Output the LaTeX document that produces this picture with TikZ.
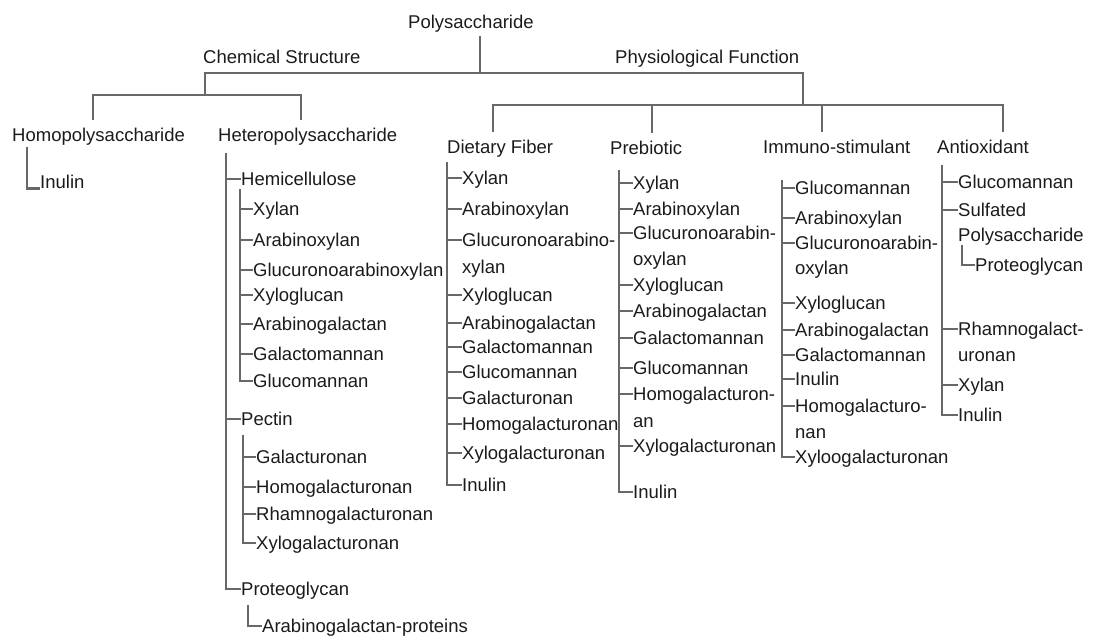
\documentclass[tikz,border=0pt]{standalone}
\usepackage{fontspec}
\setmainfont{Liberation Sans}
\definecolor{ink1}{RGB}{28,26,27}
\definecolor{line1}{RGB}{104,104,106}
\usetikzlibrary{positioning}

\begin{document}
\begin{tikzpicture}[x=1pt, y=-1pt,
  lbl/.style={anchor=west, inner sep=0pt, text height=13.2pt, text depth=0pt, text=ink1, font=\fontsize{18.5}{22}\selectfont},
  tree/.style={draw=line1, line width=2.3pt}
]
  \useasboundingbox (0,0) rectangle (1093,639);

  % top levels
  \node[lbl] (poly) at (408,22) {Polysaccharide};
  \node[lbl] (chem) at (203,56.5) {Chemical Structure};
  \node[lbl] (phys) at (615,56.5) {Physiological Function};
  \node[lbl] (homo) at (12,135) {Homopolysaccharide};
  \node[lbl] (hetero) at (218,135) {Heteropolysaccharide};
  \node[lbl] (diet) at (447,147) {Dietary Fiber};
  \node[lbl] (preb) at (610,148) {Prebiotic};
  \node[lbl] (immu) at (763,147) {Immuno-stimulant};
  \node[lbl] (anti) at (937,147) {Antioxidant};

  \coordinate (jtop) at (480,72.7);
  \coordinate (jchem) at (205,72.7);
  \coordinate (jphys) at (802.7,72.7);
  \coordinate (bchem) at (205,95);
  \coordinate (bphys) at (802.7,105);
  \coordinate (bhomo) at (93.3,95);
  \coordinate (bhet) at (300.7,95);
  \coordinate (bdiet) at (492.7,105);
  \coordinate (bpreb) at (651.7,105);
  \coordinate (bimmu) at (822,105);
  \coordinate (banti) at (1003,105);

  \draw[tree, shorten <=7pt] (jtop |- poly.south) -- (jtop);
  \draw[tree] (bchem) -- (jchem) -- (jphys) -- (bphys);
  \draw[tree, shorten <=8pt, shorten >=8pt] (bhomo |- homo.north) -- (bhomo) -- (bhet) -- (bhet |- hetero.north);
  \draw[tree, shorten <=8pt, shorten >=8pt] (bdiet |- diet.north) -- (bdiet) -- (banti) -- (banti |- anti.north);
  \draw[tree, shorten >=8pt] (bpreb) -- (bpreb |- preb.north);
  \draw[tree, shorten >=8pt] (bimmu) -- (bimmu |- immu.north);

  % homopolysaccharide
  \node[lbl] (hin) at (40,182) {Inulin};
  \coordinate (sphom) at (27,147);
  \draw[tree] (sphom) |- (hin.base west);

  % heteropolysaccharide
  \node[lbl] (hemi) at (241,179) {Hemicellulose};
  \node[lbl] (hc1) at (253,209) {Xylan};
  \node[lbl] (hc2) at (253,240) {Arabinoxylan};
  \node[lbl] (hc3) at (253,270) {Glucuronoarabinoxylan};
  \node[lbl] (hc4) at (253,295) {Xyloglucan};
  \node[lbl] (hc5) at (253,324) {Arabinogalactan};
  \node[lbl] (hc6) at (253,354) {Galactomannan};
  \node[lbl] (hc7) at (253,381) {Glucomannan};
  \node[lbl] (pect) at (241,419) {Pectin};
  \node[lbl] (pc1) at (256,457) {Galacturonan};
  \node[lbl] (pc2) at (256,487) {Homogalacturonan};
  \node[lbl] (pc3) at (256,514) {Rhamnogalacturonan};
  \node[lbl] (pc4) at (256,543) {Xylogalacturonan};
  \node[lbl] (prot) at (241,589) {Proteoglycan};
  \node[lbl] (pg1) at (262,626) {Arabinogalactan-proteins};

  \coordinate (sphet) at (226,153);
  \coordinate (sphem) at (240,189);
  \coordinate (sppec) at (243,435);
  \coordinate (spprot) at (248,605);
  \draw[tree] (sphet) |- (prot.west);
  \foreach \n in {hemi,pect} \draw[tree] (sphet |- \n.west) -- (\n.west);
  \draw[tree] (sphem) |- (hc7.west);
  \foreach \n in {hc1,hc2,hc3,hc4,hc5,hc6} \draw[tree] (sphem |- \n.west) -- (\n.west);
  \draw[tree] (sppec) |- (pc4.west);
  \foreach \n in {pc1,pc2,pc3} \draw[tree] (sppec |- \n.west) -- (\n.west);
  \draw[tree] (spprot) |- (pg1.west);

  % dietary fiber
  \node[lbl] (df1) at (462,178) {Xylan};
  \node[lbl] (df2) at (462,209) {Arabinoxylan};
  \node[lbl] (df3) at (462,240) {Glucuronoarabino-};
  \node[lbl] (df3b) at (462,267) {xylan};
  \node[lbl] (df4) at (462,295) {Xyloglucan};
  \node[lbl] (df5) at (462,323) {Arabinogalactan};
  \node[lbl] (df6) at (462,347) {Galactomannan};
  \node[lbl] (df7) at (462,372) {Glucomannan};
  \node[lbl] (df8) at (462,398) {Galacturonan};
  \node[lbl] (df9) at (462,424) {Homogalacturonan};
  \node[lbl] (df10) at (462,453) {Xylogalacturonan};
  \node[lbl] (df11) at (462,485) {Inulin};
  \coordinate (spdf) at (447,162);
  \draw[tree] (spdf) |- (df11.west);
  \foreach \n in {df1,df2,df3,df4,df5,df6,df7,df8,df9,df10} \draw[tree] (spdf |- \n.west) -- (\n.west);

  % prebiotic
  \node[lbl] (pb1) at (633,183) {Xylan};
  \node[lbl] (pb2) at (633,209) {Arabinoxylan};
  \node[lbl] (pb3) at (633,233) {Glucuronoarabin-};
  \node[lbl] (pb3b) at (633,259) {oxylan};
  \node[lbl] (pb4) at (633,285) {Xyloglucan};
  \node[lbl] (pb5) at (633,311) {Arabinogalactan};
  \node[lbl] (pb6) at (633,338) {Galactomannan};
  \node[lbl] (pb7) at (633,368) {Glucomannan};
  \node[lbl] (pb8) at (633,394) {Homogalacturon-};
  \node[lbl] (pb8b) at (633,421) {an};
  \node[lbl] (pb9) at (633,446) {Xylogalacturonan};
  \node[lbl] (pb10) at (633,492) {Inulin};
  \coordinate (sppb) at (619,170);
  \draw[tree] (sppb) |- (pb10.west);
  \foreach \n in {pb1,pb2,pb3,pb4,pb5,pb6,pb7,pb8,pb9} \draw[tree] (sppb |- \n.west) -- (\n.west);

  % immuno-stimulant
  \node[lbl] (im1) at (795,188) {Glucomannan};
  \node[lbl] (im2) at (795,218) {Arabinoxylan};
  \node[lbl] (im3) at (795,243) {Glucuronoarabin-};
  \node[lbl] (im3b) at (795,268) {oxylan};
  \node[lbl] (im4) at (795,303) {Xyloglucan};
  \node[lbl] (im5) at (795,330) {Arabinogalactan};
  \node[lbl] (im6) at (795,355) {Galactomannan};
  \node[lbl] (im7) at (795,379) {Inulin};
  \node[lbl] (im8) at (795,406) {Homogalacturo-};
  \node[lbl] (im8b) at (795,432) {nan};
  \node[lbl] (im9) at (795,457) {Xyloogalacturonan};
  \coordinate (spim) at (782,180);
  \draw[tree] (spim) |- (im9.west);
  \foreach \n in {im1,im2,im3,im4,im5,im6,im7,im8} \draw[tree] (spim |- \n.west) -- (\n.west);

  % antioxidant
  \node[lbl] (ax1) at (958,182) {Glucomannan};
  \node[lbl] (ax2) at (958,210) {Sulfated};
  \node[lbl] (ax2b) at (958,235) {Polysaccharide};
  \node[lbl] (ax3) at (975,265) {Proteoglycan};
  \node[lbl] (ax4) at (958,329) {Rhamnogalact-};
  \node[lbl] (ax4b) at (958,355) {uronan};
  \node[lbl] (ax5) at (958,385) {Xylan};
  \node[lbl] (ax6) at (958,415) {Inulin};
  \coordinate (spax) at (942,165);
  \coordinate (spaxp) at (962,245);
  \draw[tree] (spax) |- (ax6.west);
  \foreach \n in {ax1,ax2,ax4,ax5} \draw[tree] (spax |- \n.west) -- (\n.west);
  \draw[tree] (spaxp) |- (ax3.west);
\end{tikzpicture}
\end{document}
